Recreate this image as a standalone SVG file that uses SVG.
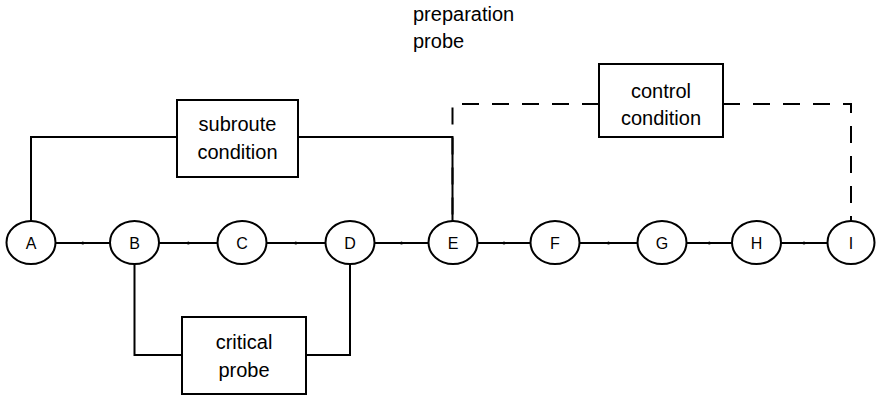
<svg xmlns="http://www.w3.org/2000/svg" width="876" height="396" viewBox="0 0 876 396">
<defs>
<style>
.n ellipse{fill:#fff;stroke:#000;stroke-width:2}
.n text{font-family:"Liberation Sans",Arial,sans-serif;font-size:16px;text-anchor:middle;fill:#000}
.b rect{fill:#fff;stroke:#000;stroke-width:2}
.b text{font-family:"Liberation Sans",Arial,sans-serif;font-size:20px;text-anchor:middle;fill:#000}
.lbl{font-family:"Liberation Sans",Arial,sans-serif;font-size:20px;fill:#000}
.e{fill:none;stroke:#000;stroke-width:2;marker-mid:url(#dot)}
.s{fill:none;stroke:#000;stroke-width:2}
.d{fill:none;stroke:#000;stroke-width:2;stroke-dasharray:17 13}
</style>
<marker id="dot" markerUnits="userSpaceOnUse" markerWidth="6" markerHeight="6" refX="3" refY="3" viewBox="0 0 6 6">
<circle cx="3" cy="3" r="1.5" fill="#000"/>
</marker>
</defs>
<rect width="876" height="396" fill="#fff"/>
<g id="connectors">
<polyline class="e" points="55.5,243 82.8,243 110,243"/>
<polyline class="e" points="159,243 188.3,243 217.5,243"/>
<polyline class="e" points="266.5,243 295.8,243 325,243"/>
<polyline class="e" points="374.5,243 401.5,243 428.5,243"/>
<polyline class="e" points="477.5,243 504,243 530.5,243"/>
<polyline class="e" points="579.5,243 608.5,243 637.5,243"/>
<polyline class="e" points="686.5,243 709.3,243 732,243"/>
<polyline class="e" points="781,243 804,243 827.5,243"/>
<path class="s" d="M31 221 V137 H177"/>
<path class="s" d="M298 137 H452.5 V221"/>
<path class="s" d="M134.5 264 V355 H182"/>
<path class="s" d="M306 355 H350 V264"/>
<path class="d" d="M599 104 H452.5 V221"/>
<path class="d" d="M723 104 H851 V221"/>
</g>
<g id="A" class="n"><ellipse cx="31" cy="242.5" rx="24.5" ry="21.5"/><text x="31" y="248.5">A</text></g>
<g id="B" class="n"><ellipse cx="134.5" cy="242.5" rx="24.5" ry="21.5"/><text x="134.5" y="248.5">B</text></g>
<g id="C" class="n"><ellipse cx="242" cy="242.5" rx="24.5" ry="21.5"/><text x="242" y="248.5">C</text></g>
<g id="D" class="n"><ellipse cx="350" cy="242.5" rx="24.5" ry="21.5"/><text x="350" y="248.5">D</text></g>
<g id="E" class="n"><ellipse cx="453" cy="242.5" rx="24.5" ry="21.5"/><text x="453" y="248.5">E</text></g>
<g id="F" class="n"><ellipse cx="555" cy="242.5" rx="24.5" ry="21.5"/><text x="555" y="248.5">F</text></g>
<g id="G" class="n"><ellipse cx="662" cy="242.5" rx="24.5" ry="21.5"/><text x="662" y="248.5">G</text></g>
<g id="H" class="n"><ellipse cx="756.5" cy="242.5" rx="24.5" ry="21.5"/><text x="756.5" y="248.5">H</text></g>
<g id="I" class="n"><ellipse cx="851" cy="242.5" rx="23.5" ry="21.5"/><text x="851" y="248.5">I</text></g>
<g id="subroute" class="b"><rect x="177" y="100" width="121" height="77"/><text x="237.5" y="131">subroute</text><text x="237.5" y="159">condition</text></g>
<g id="control" class="b"><rect x="599" y="64" width="124" height="73"/><text x="661" y="98">control</text><text x="661" y="125">condition</text></g>
<g id="critical" class="b"><rect x="182" y="317" width="124" height="77"/><text x="244" y="349">critical</text><text x="244" y="377">probe</text></g>
<g id="preparation"><text class="lbl" x="413" y="21">preparation</text><text class="lbl" x="413" y="48">probe</text></g>
</svg>
